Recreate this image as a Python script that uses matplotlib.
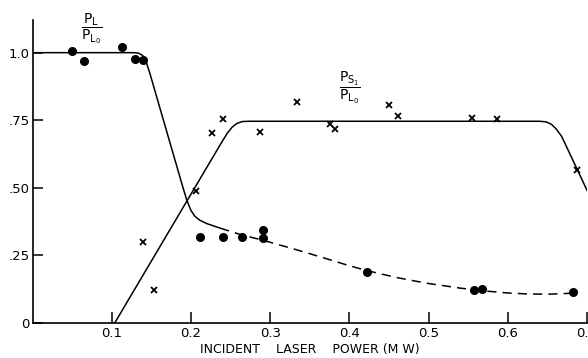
import matplotlib
matplotlib.use("Agg")
import matplotlib.pyplot as plt

# ---- data ----
# P_L / P_L0 measured points (filled dots)
pl_x = [0.050, 0.065, 0.113, 0.129, 0.140, 0.212, 0.240, 0.265, 0.291, 0.291, 0.422, 0.557, 0.568, 0.682]
pl_y = [1.005, 0.968, 1.020, 0.976, 0.973, 0.316, 0.316, 0.316, 0.343, 0.314, 0.189, 0.121, 0.124, 0.113]

# P_S1 / P_L0 measured points (crosses)
ps_x = [0.139, 0.153, 0.207, 0.226, 0.241, 0.287, 0.334, 0.376, 0.382, 0.450, 0.461, 0.555, 0.587, 0.687]
ps_y = [0.298, 0.120, 0.489, 0.702, 0.754, 0.705, 0.819, 0.735, 0.716, 0.805, 0.767, 0.759, 0.753, 0.566]

# P_L fitted curve: solid part
pl_curve_x = [0.0, 0.128, 0.134, 0.139, 0.143, 0.148, 0.190, 0.195, 0.200, 0.205, 0.211, 0.220, 0.237]
pl_curve_y = [1.0, 1.000, 0.998, 0.990, 0.970, 0.925, 0.500, 0.452, 0.416, 0.394, 0.380, 0.367, 0.350]
# P_L fitted curve: dashed continuation
pl_dash_x = [0.237, 0.262, 0.290, 0.330, 0.370, 0.400, 0.422, 0.460, 0.498, 0.540, 0.573, 0.600, 0.628, 0.655, 0.680]
pl_dash_y = [0.350, 0.327, 0.306, 0.273, 0.238, 0.211, 0.193, 0.167, 0.146, 0.128, 0.117, 0.110, 0.106, 0.106, 0.109]

# P_S1 fitted curve
ps_curve_x = [0.104, 0.240, 0.246, 0.252, 0.258, 0.265, 0.275, 0.640, 0.648, 0.655, 0.661, 0.668, 0.702]
ps_curve_y = [0.000, 0.674, 0.702, 0.724, 0.738, 0.745, 0.746, 0.746, 0.744, 0.735, 0.718, 0.690, 0.478]

x_ticks = [0.1, 0.2, 0.3, 0.4, 0.5, 0.6, 0.7]
x_tick_labels = ["0.1", "0.2", "0.3", "0.4", "0.5", "0.6", "0.7"]
y_ticks = [0, 0.25, 0.5, 0.75, 1.0]
y_tick_labels = ["0", ".25", ".50", ".75", "1.0"]

plt.rcParams["font.family"] = ["DejaVu Sans"]
plt.rcParams["mathtext.default"] = "regular"

W, H = 588, 358
fig = plt.figure(figsize=(W / 100, H / 100), dpi=100)
ax = fig.add_axes([32.5 / W, 35.3 / H, 554.5 / W, 302.7 / H])

lw = 1.1
ax.plot(pl_curve_x, pl_curve_y, color="black", lw=lw, solid_capstyle="round")
ax.plot(pl_dash_x, pl_dash_y, color="black", lw=lw, ls=(0, (6, 4)))
ax.plot(ps_curve_x, ps_curve_y, color="black", lw=lw, solid_capstyle="round")

ax.plot(pl_x, pl_y, ls="none", marker="o", ms=5.5, color="black")
ax.plot(ps_x, ps_y, ls="none", marker="x", ms=5, mew=1.3, color="black")

ax.set_xlim(0, 0.7)
ax.set_ylim(0, 1.121)
for s in ("top", "right"):
    ax.spines[s].set_visible(False)
for s in ("left", "bottom"):
    ax.spines[s].set_linewidth(1.2)

ax.set_xticks(x_ticks)
ax.set_xticklabels(x_tick_labels)
ax.set_yticks(y_ticks)
ax.set_yticklabels(y_tick_labels)
ax.tick_params(axis="x", direction="in", length=8, width=1.1, pad=3, labelsize=9.5)
ax.tick_params(axis="y", direction="in", length=7, width=1.1, pad=2, labelsize=9.5)

ax.set_xlabel("INCIDENT    LASER    POWER (M W)", fontsize=9)
ax.xaxis.set_label_coords(0.5, -0.068)

ax.text(0.074, 1.091, r"$\dfrac{P_L}{P_{L_0}}$", fontsize=10, ha="center", va="center")
ax.text(0.401, 0.869, r"$\dfrac{P_{S_1}}{P_{L_0}}$", fontsize=10, ha="center", va="center")

fig.savefig("out.png", dpi=100)
